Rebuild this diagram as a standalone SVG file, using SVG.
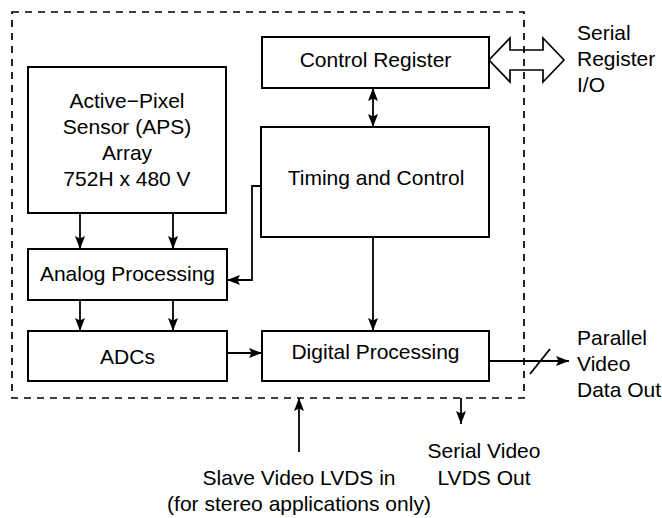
<svg xmlns="http://www.w3.org/2000/svg" width="662" height="518" viewBox="0 0 662 518">
<style>
.box{fill:#fff;stroke:#000;stroke-width:2}
.t{font-family:"Liberation Sans",Arial,sans-serif;font-size:21px;fill:#000}
.c{text-anchor:middle}
.ln{fill:none;stroke:#000;stroke-width:1.8}
.ar{marker-end:url(#ah)}
</style>
<defs>
<marker id="ah" markerUnits="userSpaceOnUse" markerWidth="14" markerHeight="11" refX="13" refY="5" orient="auto-start-reverse">
<path d="M0,0 L13,5 L0,10 L2.5,5 z" fill="#000"/>
</marker>
</defs>
<rect id="boundary" x="12" y="12" width="512" height="386" fill="none" stroke="#000" stroke-width="1.7" stroke-dasharray="7 6"/>
<g id="aps"><rect class="box" x="28" y="67" width="198" height="146"/>
<text class="t c" x="127" y="108">Active−Pixel</text>
<text class="t c" x="127" y="134">Sensor (APS)</text>
<text class="t c" x="127" y="160">Array</text>
<text class="t c" x="127" y="186">752H x 480 V</text></g>
<g id="control-register"><rect class="box" x="262" y="37" width="227" height="51"/>
<text class="t c" x="375.5" y="67">Control Register</text></g>
<g id="timing"><rect class="box" x="261" y="127" width="228" height="110"/>
<text class="t c" x="376" y="185">Timing and Control</text></g>
<g id="analog"><rect class="box" x="28" y="249" width="199" height="51"/>
<text class="t c" x="127.5" y="281">Analog Processing</text></g>
<g id="adcs"><rect class="box" x="28" y="331" width="199" height="50"/>
<text class="t c" x="127.5" y="364">ADCs</text></g>
<g id="digital"><rect class="box" x="262" y="331" width="227" height="50"/>
<text class="t c" x="375.5" y="359">Digital Processing</text></g>
<g id="connectors">
<line class="ln ar" x1="80" y1="213" x2="80" y2="249"/>
<line class="ln ar" x1="173" y1="213" x2="173" y2="249"/>
<line class="ln ar" x1="80" y1="300" x2="80" y2="331"/>
<line class="ln ar" x1="173" y1="300" x2="173" y2="331"/>
<line class="ln ar" x1="227" y1="353" x2="262" y2="353"/>
<line class="ln ar" x1="373" y1="237" x2="373" y2="331"/>
<line class="ln ar" x1="373" y1="88" x2="373" y2="127" style="marker-start:url(#ah)"/>
<polyline class="ln ar" points="261,186 252,186 252,280 227,280"/>
<line class="ln ar" x1="489" y1="361" x2="569" y2="361"/>
<line class="ln" x1="530" y1="374" x2="550" y2="349"/>
<line class="ln ar" x1="299" y1="452" x2="299" y2="398"/>
<line class="ln ar" x1="461" y1="398" x2="461" y2="424"/>
<polygon points="489,60 510,38 510,50 543,50 543,38 564,60 543,82 543,70 510,70 510,82" fill="none" stroke="#000" stroke-width="1.7"/>
</g>
<g id="labels">
<text class="t" x="577" y="40">Serial</text>
<text class="t" x="577" y="66">Register</text>
<text class="t" x="577" y="92">I/O</text>
<text class="t" x="577" y="345">Parallel</text>
<text class="t" x="577" y="371">Video</text>
<text class="t" x="577" y="397">Data Out</text>
<text class="t c" x="484" y="458">Serial Video</text>
<text class="t c" x="484" y="485">LVDS Out</text>
<text class="t c" x="299" y="485">Slave Video LVDS in</text>
<text class="t c" x="299" y="511">(for stereo applications only)</text>
</g>
</svg>
